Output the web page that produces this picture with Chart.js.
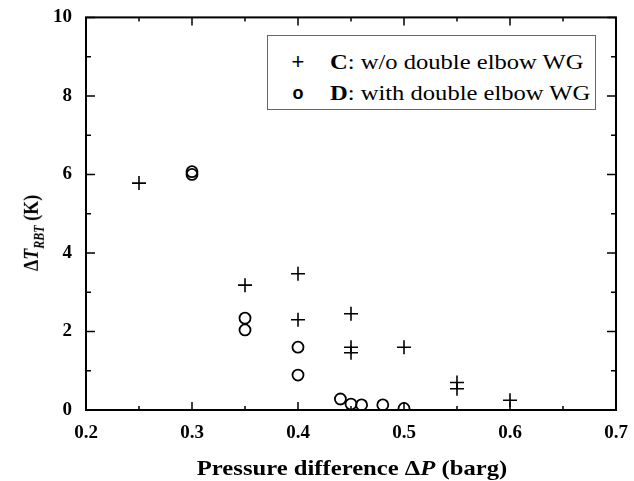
<!DOCTYPE html>
<html>
<head>
<meta charset="utf-8">
<script src="https://cdn.jsdelivr.net/npm/chart.js@4"></script>
<style>
  html, body { margin: 0; padding: 0; background: #fff; }
  #wrap {
    position: relative;
    width: 634px;
    height: 481px;
    font-family: "Liberation Serif", "Times New Roman", serif;
    color: #000;
  }
  canvas { position: absolute; left: 0; top: 0; }
  .ytitle {
    position: absolute; left: 34px; top: 233px;
    transform: translate(-50%, -50%) rotate(-90deg) scaleY(1.15);
    font-weight: bold; font-size: 18px; white-space: nowrap;
  }
  .ytitle sub { font-size: 12px; }
  .xtitle {
    position: absolute; left: 352px; top: 468px;
    transform: translate(-50%, -50%) scaleX(1.12);
    font-weight: bold; font-size: 22px; white-space: nowrap;
  }
  .legend {
    position: absolute; left: 267px; top: 35px;
    width: 329px; height: 75px;
    border: 1px solid #666; box-sizing: border-box;
    background: #fff; font-size: 21px;
  }
  .row { position: absolute; left: 0; height: 24px; line-height: 24px; white-space: nowrap; }
  .sym { position: absolute; left: 22px; width: 16px; text-align: center; font-family: "Liberation Sans", sans-serif; }
  .lbl { position: absolute; left: 62px; transform: scaleX(1.17); transform-origin: left center; }
</style>
</head>
<body>
<div id="wrap">
  <canvas id="c" width="634" height="481"></canvas>
  <div class="ytitle">&Delta;<i>T</i><sub><i>RBT</i></sub> (K)</div>
  <div class="xtitle">Pressure difference &Delta;<i>P</i> (barg)</div>
  <div class="legend">
    <div class="row" style="top:14px"><span class="sym" style="font-size:22px">+</span><span class="lbl"><b>C</b>: w/o double elbow WG</span></div>
    <div class="row" style="top:45px"><span class="sym" style="font-size:18px;font-weight:bold">o</span><span class="lbl"><b>D</b>: with double elbow WG</span></div>
  </div>
</div>
<script>
// series C: w/o double elbow WG
const cX = [0.25, 0.35, 0.40, 0.40, 0.45, 0.45, 0.45, 0.50, 0.55, 0.55, 0.60];
const cY = [5.78, 3.18, 3.47, 2.30, 2.45, 1.60, 1.46, 1.60, 0.70, 0.54, 0.25];
// series D: with double elbow WG
const dX = [0.30, 0.30, 0.35, 0.35, 0.40, 0.40, 0.44, 0.45, 0.46, 0.48, 0.50];
const dY = [6.00, 6.07, 2.34, 2.04, 1.60, 0.89, 0.28, 0.15, 0.13, 0.13, 0.04];

const xTicks = [0.2, 0.3, 0.4, 0.5, 0.6, 0.7];
const yTicks = [0, 2, 4, 6, 8, 10];

const pts = (xs, ys) => xs.map((x, i) => ({x, y: ys[i]}));

// frame with inward ticks on all four sides
const framePlugin = {
  id: 'frame',
  afterDraw(chart) {
    const {ctx, chartArea: a, scales: {x, y}} = chart;
    ctx.save();
    ctx.strokeStyle = '#000';
    ctx.lineWidth = 2;
    ctx.strokeRect(a.left, a.top, a.right - a.left, a.bottom - a.top);
    ctx.lineWidth = 1.5;
    ctx.beginPath();
    const xMinor = xTicks.slice(1).map((v, i) => (v + xTicks[i]) / 2);
    const yMinor = yTicks.slice(1).map((v, i) => (v + yTicks[i]) / 2);
    const tx = (v, len) => {
      const p = x.getPixelForValue(v);
      ctx.moveTo(p, a.bottom); ctx.lineTo(p, a.bottom - len);
      ctx.moveTo(p, a.top); ctx.lineTo(p, a.top + len);
    };
    const ty = (v, len) => {
      const p = y.getPixelForValue(v);
      ctx.moveTo(a.left, p); ctx.lineTo(a.left + len, p);
      ctx.moveTo(a.right, p); ctx.lineTo(a.right - len, p);
    };
    xTicks.forEach(v => tx(v, 8));
    xMinor.forEach(v => tx(v, 4));
    yTicks.forEach(v => ty(v, 9));
    yMinor.forEach(v => ty(v, 5));
    ctx.stroke();
    ctx.restore();
  }
};

const tickFont = {family: '"Liberation Serif", "Times New Roman", serif', size: 19, weight: 'bold'};

new Chart(document.getElementById('c'), {
  type: 'scatter',
  data: {
    datasets: [
      {
        label: 'C: w/o double elbow WG',
        data: pts(cX, cY),
        pointStyle: 'cross',
        pointRadius: 7,
        borderWidth: 1.6,
        borderColor: '#000',
        backgroundColor: '#000'
      },
      {
        label: 'D: with double elbow WG',
        data: pts(dX, dY),
        pointStyle: 'circle',
        pointRadius: 5.5,
        borderWidth: 1.8,
        borderColor: '#000',
        backgroundColor: 'rgba(0,0,0,0)'
      }
    ]
  },
  options: {
    responsive: false,
    animation: false,
    events: [],
    layout: {padding: {top: 15, right: 18, left: 0, bottom: 0}},
    plugins: {legend: {display: false}, tooltip: {enabled: false}},
    scales: {
      x: {
        type: 'linear',
        min: 0.2, max: 0.7,
        afterBuildTicks: s => { s.ticks = xTicks.map(v => ({value: v})); },
        afterFit: s => { s.height = 71; },
        grid: {display: false},
        border: {display: false},
        ticks: {
          font: tickFont, color: '#000', padding: 4,
          maxRotation: 0, autoSkip: false,
          callback: v => v.toFixed(1)
        }
      },
      y: {
        min: 0, max: 10,
        afterBuildTicks: s => { s.ticks = yTicks.map(v => ({value: v})); },
        afterFit: s => { s.width = 86; },
        grid: {display: false},
        border: {display: false},
        ticks: {font: tickFont, color: '#000', padding: 6, callback: v => String(v)}
      }
    }
  },
  plugins: [framePlugin]
});
</script>
</body>
</html>
